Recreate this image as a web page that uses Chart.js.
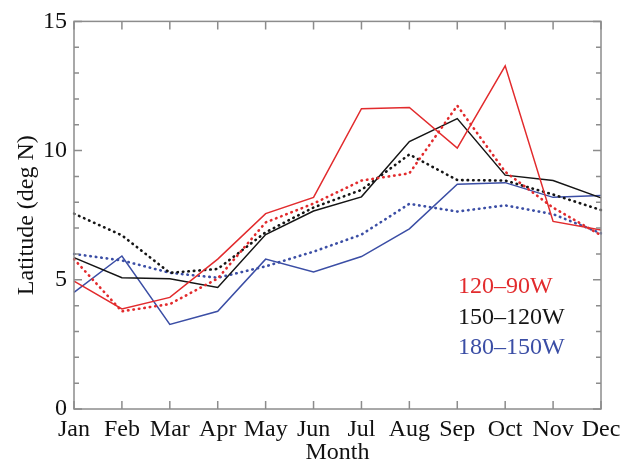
<!DOCTYPE html>
<html>
<head>
<meta charset="utf-8">
<script src="https://cdn.jsdelivr.net/npm/chart.js@4.4.0/dist/chart.umd.min.js"></script>
<style>
  html, body { margin: 0; padding: 0; background: #fff; }
  #wrap { width: 631px; height: 465px; }
</style>
</head>
<body>
<div id="wrap"><canvas id="myChart" width="631" height="465"></canvas></div>
<script>
const months = ["Jan", "Feb", "Mar", "Apr", "May", "Jun", "Jul", "Aug", "Sep", "Oct", "Nov", "Dec"];
const yTicks = [0, 5, 10, 15];

// 120-90W
const east = [4.95, 3.87, 4.32, 5.8, 7.56, 8.19, 11.62, 11.67, 10.1, 13.28, 7.26, 6.93];
const eastDot = [5.8, 3.78, 4.06, 5.05, 7.22, 7.95, 8.84, 9.12, 11.74, 9.18, 7.79, 6.72];
// 150-120W
const central = [5.86, 5.08, 5.04, 4.7, 6.75, 7.66, 8.21, 10.35, 11.24, 9.05, 8.84, 8.17];
const centralDot = [7.56, 6.72, 5.27, 5.42, 6.84, 7.8, 8.48, 9.85, 8.86, 8.84, 8.3, 7.7];
// 180-150W
const west = [4.51, 5.92, 3.27, 3.78, 5.8, 5.3, 5.9, 6.97, 8.7, 8.76, 8.19, 8.26];
const westDot = [6.0, 5.75, 5.27, 5.08, 5.52, 6.09, 6.75, 7.94, 7.64, 7.88, 7.54, 6.8];

const seriesNames = ["120\u201390W", "150\u2013120W", "180\u2013150W"];
const RED = "#e22b2d", BLACK = "#151515", BLUE = "#3b4ea5";
const AXIS = "#8c8c8c";
const SERIF = "'Liberation Serif', 'DejaVu Serif', serif";

const solid = (data, color) => ({
  data: data, borderColor: color, borderWidth: 1.5, pointRadius: 0, tension: 0, fill: false
});
const dotted = (data, color) => ({
  data: data, borderColor: color, borderWidth: 2.6, borderDash: [0.5, 5], borderCapStyle: "round",
  pointRadius: 0, tension: 0, fill: false
});

// frame, inward ticks on all sides, and text legend
const framePlugin = {
  id: "frame",
  afterDraw(chart) {
    const ctx = chart.ctx;
    const a = chart.chartArea;
    const xs = chart.scales.x, ys = chart.scales.y;
    ctx.save();
    ctx.strokeStyle = AXIS;
    ctx.lineWidth = 1.5;
    ctx.strokeRect(a.left, a.top, a.right - a.left, a.bottom - a.top);
    ctx.beginPath();
    months.forEach((m, i) => {
      const px = xs.getPixelForValue(i);
      ctx.moveTo(px, a.bottom); ctx.lineTo(px, a.bottom - 8);
      ctx.moveTo(px, a.top); ctx.lineTo(px, a.top + 8);
    });
    for (let v = 0; v <= 15; v++) {
      const py = ys.getPixelForValue(v);
      const len = yTicks.includes(v) ? 8 : 5;
      ctx.moveTo(a.left, py); ctx.lineTo(a.left + len, py);
      ctx.moveTo(a.right, py); ctx.lineTo(a.right - len, py);
    }
    ctx.stroke();

    ctx.font = "24px " + SERIF;
    ctx.textAlign = "left";
    ctx.textBaseline = "alphabetic";
    const colors = [RED, BLACK, BLUE];
    seriesNames.forEach((name, i) => {
      ctx.fillStyle = colors[i];
      ctx.fillText(name, 458, 293 + i * 30.5);
    });
    ctx.restore();
  }
};

const ctx = document.getElementById("myChart").getContext("2d");
const myChart = new Chart(ctx, {
  type: "line",
  data: {
    labels: months,
    datasets: [
      solid(east, RED), dotted(eastDot, RED),
      solid(central, BLACK), dotted(centralDot, BLACK),
      solid(west, BLUE), dotted(westDot, BLUE)
    ]
  },
  options: {
    responsive: false,
    animation: false,
    layout: { padding: { top: 13, right: 30, left: 0, bottom: 0 } },
    plugins: { legend: { display: false }, tooltip: { enabled: false } },
    scales: {
      x: {
        type: "category",
        offset: false,
        grid: { display: false, drawTicks: false },
        border: { display: false },
        ticks: { color: "#111", font: { family: SERIF, size: 24 }, padding: 6, maxRotation: 0, autoSkip: false },
        title: { display: true, text: "Month", color: "#111", font: { family: SERIF, size: 24, lineHeight: 1 }, padding: { top: 0, bottom: 0 } },
        afterFit(scale) { scale.height = 56; }
      },
      y: {
        min: 0, max: 15,
        grid: { display: false, drawTicks: false },
        border: { display: false },
        ticks: { stepSize: 5, color: "#111", font: { family: SERIF, size: 24 }, padding: 7 },
        title: { display: true, text: "Latitude (deg N)", color: "#111", font: { family: SERIF, size: 24, lineHeight: 1 }, padding: { top: 15, bottom: 0 } },
        afterFit(scale) { scale.width = 74; }
      }
    }
  },
  plugins: [framePlugin]
});
</script>
</body>
</html>
